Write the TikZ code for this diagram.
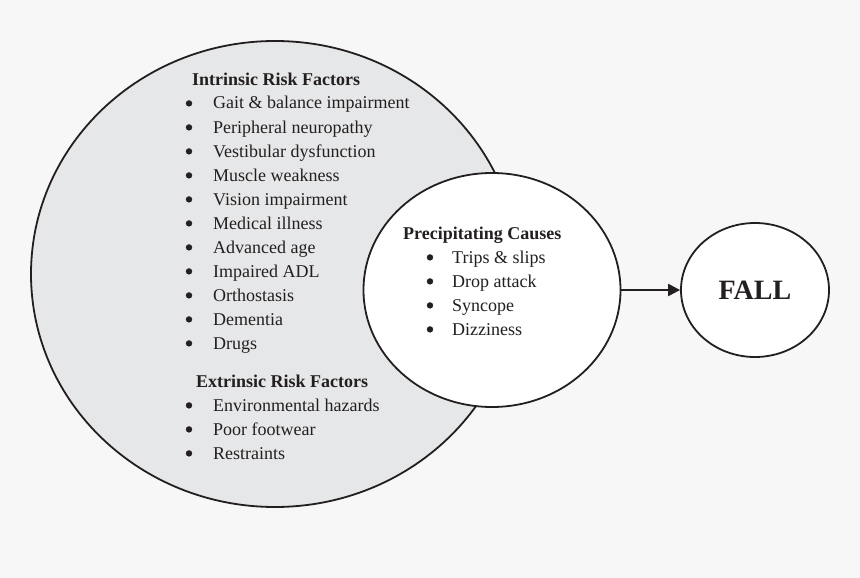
\documentclass[tikz,border=0pt]{standalone}
\usepackage{fontspec}
\setmainfont{Liberation Serif}
\usepackage{xcolor}
\usepackage{tikz}
\usetikzlibrary{arrows.meta, shapes.geometric}

\definecolor{bgcol}{HTML}{F7F7F7}
\definecolor{riskfill}{HTML}{E6E7E8}
\definecolor{inkcol}{HTML}{231F20}

\tikzset{
  blob/.style={ellipse, draw=inkcol, line width=1.8pt, inner sep=0pt},
  dot/.style={circle, fill=inkcol, inner sep=0pt, minimum size=6.4pt, yshift=1.6pt},
  head/.style={anchor=west, inner sep=0pt, text height=12pt, text depth=4pt,
               font=\fontsize{18}{22}\selectfont\bfseries},
  item/.style={anchor=west, inner sep=0pt, text height=12pt, text depth=4pt,
               font=\fontsize{18}{22}\selectfont}
}

\begin{document}
\begin{tikzpicture}[x=1pt, y=-1pt, inkcol]
  \fill[bgcol] (0,0) rectangle (860,578);
  \useasboundingbox (0,0) rectangle (860,578);

  % circles
  \node[blob, fill=riskfill, minimum width=488pt, minimum height=466pt] (risk) at (275,274) {};
  \node[blob, fill=white, minimum width=257pt, minimum height=234pt] (cause) at (492,290) {};
  \node[blob, fill=white, minimum width=148pt, minimum height=134pt] (fall) at (755,290)
       {\fontsize{28}{32}\selectfont\bfseries FALL};
  \draw[line width=2.2pt, -{Triangle[length=12pt, width=12pt]}] (cause.east) -- (fall.west);

  % intrinsic
  \node[head] (inhead) at (192,81) {Intrinsic Risk Factors};
  \foreach \txt [count=\i] in {Gait \& balance impairment, Peripheral neuropathy,
      Vestibular dysfunction, Muscle weakness, Vision impairment, Medical illness,
      Advanced age, Impaired ADL, Orthostasis, Dementia, Drugs} {
    \node[dot] (inb\i) at (189,81+24*\i) {};
    \node[item] (in\i) at (213,81+24*\i) {\txt};
  }

  % extrinsic
  \node[head] (exhead) at (196,383) {Extrinsic Risk Factors};
  \foreach \txt [count=\i] in {Environmental hazards, Poor footwear, Restraints} {
    \node[dot] (exb\i) at (189,383+24*\i) {};
    \node[item] (ex\i) at (213,383+24*\i) {\txt};
  }

  % precipitating
  \node[head] (pchead) at (403,235) {Precipitating Causes};
  \foreach \txt [count=\i] in {Trips \& slips, Drop attack, Syncope, Dizziness} {
    \node[dot] (pcb\i) at (430,235+24*\i) {};
    \node[item] (pc\i) at (452,235+24*\i) {\txt};
  }
\end{tikzpicture}
\end{document}
